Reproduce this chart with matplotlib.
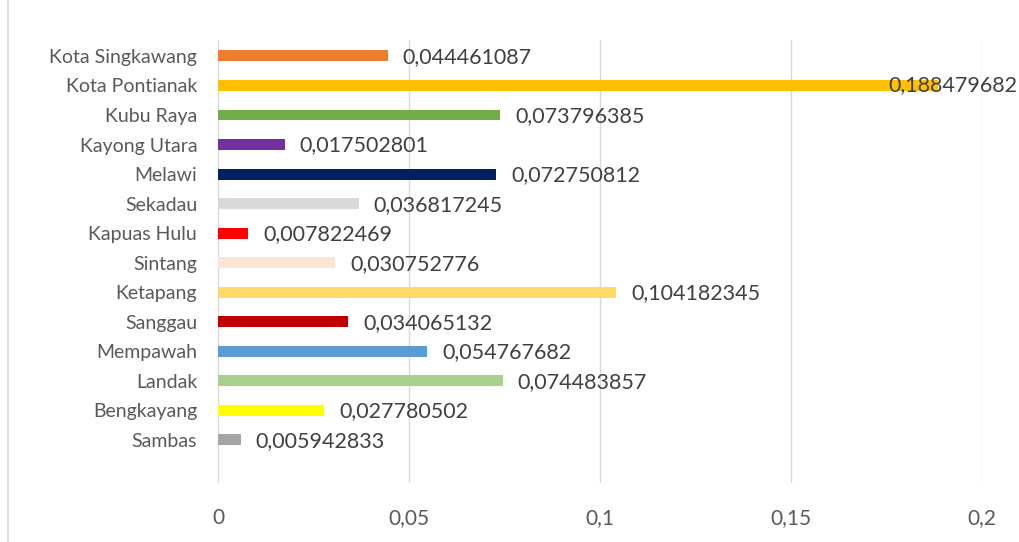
import numpy as np
import matplotlib
matplotlib.use('Agg')
import matplotlib.pyplot as plt
from matplotlib.lines import Line2D
from matplotlib.ticker import FuncFormatter

plt.rcParams['font.family'] = ['Lato', 'DejaVu Sans']

# kabupaten / kota, bottom to top
daerah = ['Sambas', 'Bengkayang', 'Landak', 'Mempawah', 'Sanggau', 'Ketapang',
          'Sintang', 'Kapuas Hulu', 'Sekadau', 'Melawi', 'Kayong Utara',
          'Kubu Raya', 'Kota Pontianak', 'Kota Singkawang']
nilai = [0.005942833, 0.027780502, 0.074483857, 0.054767682, 0.034065132,
         0.104182345, 0.030752776, 0.007822469, 0.036817245, 0.072750812,
         0.017502801, 0.073796385, 0.188479682, 0.044461087]
warna = ['#A5A5A5', '#FFFF00', '#A9D18E', '#5B9BD5', '#C00000', '#FFD966',
         '#FBE5D6', '#FF0000', '#D9D9D9', '#002060', '#7030A0', '#70AD47',
         '#FFC000', '#ED7D31']
xticks = [0, 0.05, 0.1, 0.15, 0.2]

fig = plt.figure(figsize=(10.19, 5.42), dpi=100)
ax = fig.add_axes([218/1019, 1-483/542, (982-218)/1019, (483-40)/542])

y = np.arange(len(daerah))
ax.barh(y, nilai, height=0.37, color=warna, zorder=3)

for i, v in enumerate(nilai):
    teks = f'{v:.9f}'.replace('.', ',')
    if v > 0.15:
        # too long to fit after the bar, pull it back inside the chart
        ax.annotate(teks, xy=(1017/1019, i), xycoords=('figure fraction', 'data'),
                    ha='right', va='center', fontsize=15.5, color='#404040',
                    zorder=4, annotation_clip=False)
    else:
        ax.annotate(teks, xy=(v, i), xytext=(15, -1), textcoords='offset pixels',
                    ha='left', va='center', fontsize=15.5, color='#404040', zorder=4)

ax.set_xlim(0, 0.2)
ax.set_ylim(-1.46, 13.54)
ax.set_xticks(xticks)
ax.xaxis.set_major_formatter(FuncFormatter(lambda v, p: ('%g' % v).replace('.', ',')))
ax.set_yticks(y)
ax.set_yticklabels(daerah)
ax.tick_params(axis='x', length=0, pad=18, labelsize=15, labelcolor='#595959')
ax.tick_params(axis='y', length=0, pad=15, labelsize=14, labelcolor='#595959')
ax.grid(axis='x', color='#D9D9D9', linewidth=1, zorder=0)
for s in ax.spines.values():
    s.set_visible(False)

# chart area border on the left
fig.add_artist(Line2D([8/1019, 8/1019], [0, 1], color='#D9D9D9', linewidth=1.2))

fig.savefig('out.png', dpi=100)
